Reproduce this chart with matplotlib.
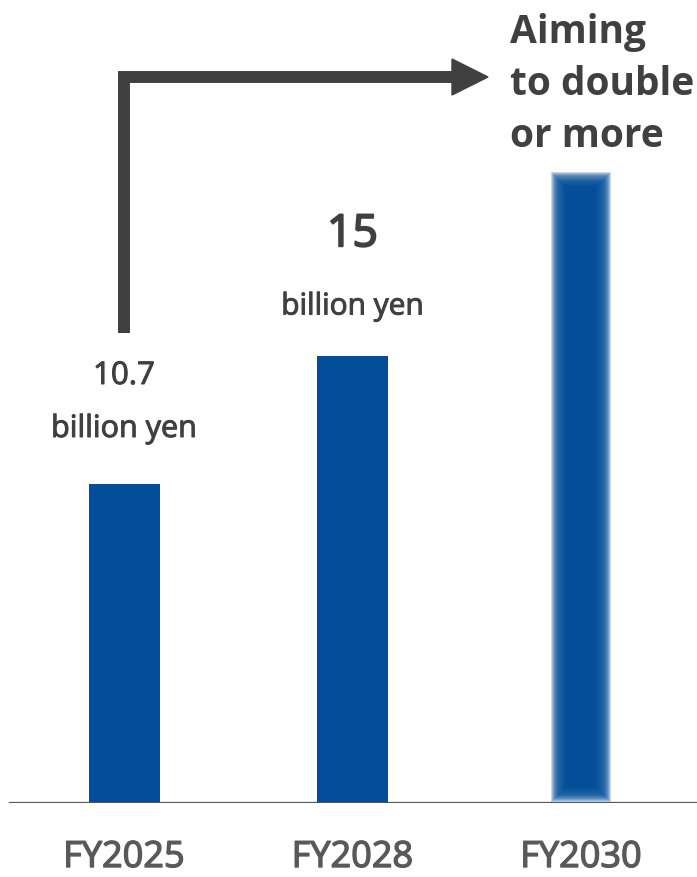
import matplotlib
matplotlib.use("Agg")
import matplotlib.pyplot as plt
import matplotlib.patheffects as pe
from matplotlib.patches import Polygon

plt.rcParams["font.family"] = ["Open Sans", "DejaVu Sans"]

years = ["FY2025", "FY2028", "FY2030"]
values = [10.7, 15.0, 20.9]
value_labels = ["10.7", "15", None]
unit_label = "billion yen"
target_lines = ["Aiming", "to double", "or more"]

BAR_COLOR = "#024d99"
TEXT_DARK = "#404040"
TICK_GRAY = "#595959"

W, H = 697, 877
BASE_PX = 803           # baseline pixel row
PX_PER_UNIT = 29.8
X0_PX, DX_PX = 124, 228.5

fig = plt.figure(figsize=(W / 100, H / 100), dpi=100)
ax = fig.add_axes([0, (H - BASE_PX) / H, 1, BASE_PX / H])
ax.set_xlim(-X0_PX / DX_PX, (W - X0_PX) / DX_PX)
ax.set_ylim(0, BASE_PX / PX_PER_UNIT)
ax.axis("off")


def px_x(p):
    return (p - X0_PX) / DX_PX


def px_y(p):
    return (BASE_PX - p) / PX_PER_UNIT


def semibold(color, lw=0.7):
    return [pe.withStroke(linewidth=lw, foreground=color)]


x = list(range(len(years)))
bar_w = 71 / DX_PX

# solid bars
ax.bar(x[:2], values[:2], width=bar_w, color=BAR_COLOR, zorder=2)

# blurred target bar: stack of translucent rectangles
core_w = 44 / DX_PX
bottom = 0.3
n = 16
blur_x = 8 / DX_PX
blur_y = 8 / PX_PER_UNIT
for k in range(n):
    t = 1 - 2 * k / (n - 1)
    w = core_w + 2 * blur_x * t
    ax.bar(x[2], values[2] - bottom + 2 * blur_y * t, width=w,
           bottom=bottom - blur_y * t, color=BAR_COLOR, alpha=0.22,
           linewidth=0, zorder=2)

# baseline
ax.axhline(0, xmin=10 / W, xmax=1, color="#555555", linewidth=1.6, zorder=3)

# value labels
for xi, lab in zip(x, value_labels):
    if lab is None:
        continue
    if lab == "15":
        ax.text(xi, px_y(235), lab, ha="center", va="center", fontsize=32,
                color=TEXT_DARK, path_effects=semibold(TEXT_DARK, 1.4))
        ax.text(xi, px_y(307), unit_label, ha="center", va="center",
                fontsize=21.5, color=TEXT_DARK,
                path_effects=semibold(TEXT_DARK))
    else:
        ax.text(xi, px_y(376), lab, ha="center", va="center", fontsize=22.5,
                color=TEXT_DARK, path_effects=semibold(TEXT_DARK))
        ax.text(xi, px_y(429), unit_label, ha="center", va="center",
                fontsize=22, color=TEXT_DARK,
                path_effects=semibold(TEXT_DARK))

# L-shaped arrow
ARROW_COLOR = "#404040"
ax.plot([px_x(124), px_x(124), px_x(455)], [px_y(333), px_y(77), px_y(77)],
        color=ARROW_COLOR, linewidth=8.6, solid_joinstyle="miter",
        solid_capstyle="butt", zorder=3)
head = Polygon([[px_x(452), px_y(59)], [px_x(488), px_y(77)], [px_x(452), px_y(95)]],
               closed=True, color=ARROW_COLOR, zorder=3)
ax.add_patch(head)

# target text, one line at a time (baselines ~52 px apart)
for i, line in enumerate(target_lines):
    ax.text(px_x(510), px_y(43 + 52 * i), line, ha="left", va="baseline",
            fontsize=28, fontweight="bold", color=TEXT_DARK)

# category labels
for xi, yr in zip(x, years):
    ax.text(xi, px_y(867), yr, ha="center", va="baseline", fontsize=26,
            color=TICK_GRAY, clip_on=False,
            path_effects=semibold(TICK_GRAY, 1.0))

fig.savefig("out.png", dpi=100)
